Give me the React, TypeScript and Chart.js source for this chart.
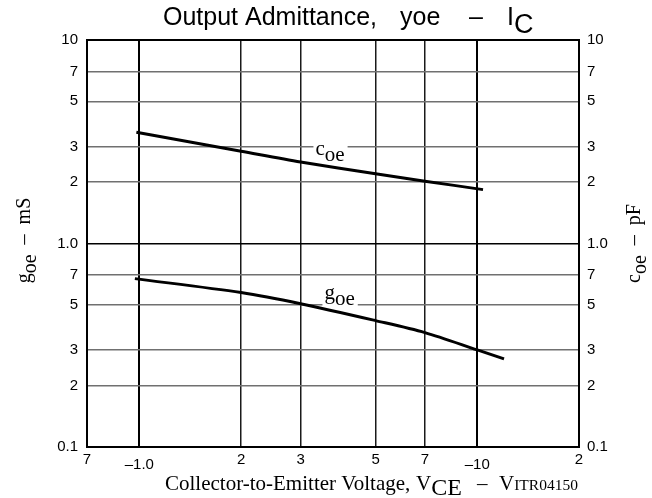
import { useEffect, useRef } from "react";
import Chart from "chart.js/auto";

// ---- data ----
const xTickValues = [0.7, 1, 2, 3, 5, 7, 10, 20];
const xTickLabels = ["7", "–1.0", "2", "3", "5", "7", "–10", "2"];
const yTickValues = [0.1, 0.2, 0.3, 0.5, 0.7, 1, 2, 3, 5, 7, 10];
const yTickLabels = ["0.1", "2", "3", "5", "7", "1.0", "2", "3", "5", "7", "10"];

const coeVce = [0.98, 2, 3, 5, 7, 10.4];
const coeValues = [3.52, 2.84, 2.515, 2.2, 2.025, 1.84];
const goeVce = [0.97, 2, 3, 5, 7, 10, 12];
const goeValues = [0.672, 0.574, 0.506, 0.418, 0.365, 0.3, 0.271];

// curve label anchors (data units)
const coeLabelAt = { x: 3.32, y: 2.71 };
const goeLabelAt = { x: 3.53, y: 0.536 };

const SANS = "'Liberation Sans', Arial, sans-serif";
const SERIF = "'Liberation Serif', 'Times New Roman', serif";

type Run = { t: string; font: string; dy: number; x?: number };

function runsWidth(ctx: CanvasRenderingContext2D, runs: Run[]) {
  let w = 0;
  for (const r of runs) {
    ctx.font = r.font;
    w += ctx.measureText(r.t).width;
  }
  return w;
}

function drawRuns(ctx: CanvasRenderingContext2D, runs: Run[], x: number, y: number) {
  let cx = x;
  for (const r of runs) {
    if (r.x !== undefined) cx = r.x;
    ctx.font = r.font;
    ctx.fillText(r.t, cx, y + r.dy);
    cx += ctx.measureText(r.t).width;
  }
  return cx;
}

const decorPlugin = {
  id: "decor",
  beforeDatasetsDraw(chart: any) {
    const ctx = chart.ctx as CanvasRenderingContext2D;
    const xs = chart.scales.x;
    const ys = chart.scales.y;
    const labels = [
      { at: coeLabelAt, main: "c" },
      { at: goeLabelAt, main: "g" },
    ];
    ctx.save();
    ctx.textAlign = "left";
    ctx.textBaseline = "alphabetic";
    for (const l of labels) {
      const px = xs.getPixelForValue(l.at.x);
      const py = ys.getPixelForValue(l.at.y);
      const runs: Run[] = [
        { t: l.main, font: `21px ${SERIF}`, dy: 0 },
        { t: "oe", font: `21px ${SERIF}`, dy: 6 },
      ];
      const w = runsWidth(ctx, runs);
      ctx.fillStyle = "#fff";
      ctx.fillRect(px - 2, py - 14, w + 5, 22);
      ctx.fillStyle = "#000";
      drawRuns(ctx, runs, px, py);
    }
    ctx.restore();
  },
  afterDraw(chart: any) {
    const ctx = chart.ctx as CanvasRenderingContext2D;
    const area = chart.chartArea;
    const xs = chart.scales.x;
    ctx.save();
    // frame
    ctx.strokeStyle = "#000";
    ctx.lineWidth = 2;
    ctx.strokeRect(area.left, area.top, area.right - area.left, area.bottom - area.top);

    ctx.fillStyle = "#000";
    ctx.textBaseline = "alphabetic";
    // x tick labels
    ctx.font = `15px ${SANS}`;
    ctx.textAlign = "center";
    xTickValues.forEach((v, i) => {
      const lbl = xTickLabels[i];
      const lower = lbl.startsWith("–");
      ctx.fillText(lbl, xs.getPixelForValue(v), area.bottom + (lower ? 22 : 17));
    });

    ctx.textAlign = "left";
    // title
    drawRuns(
      ctx,
      [
        { t: "Output Admittance,", font: `25px ${SANS}`, dy: 0, x: 163 },
        { t: "yoe", font: `25px ${SANS}`, dy: 0, x: 400 },
        { t: "–", font: `25px ${SANS}`, dy: 0, x: 469 },
        { t: "I", font: `25px ${SANS}`, dy: 0, x: 507 },
        { t: "C", font: `27px ${SANS}`, dy: 8 },
      ],
      163,
      25
    );

    // x axis title
    drawRuns(
      ctx,
      [
        { t: "Collector-to-Emitter Voltage,", font: `21px ${SERIF}`, dy: 0, x: 165 },
        { t: "V", font: `21px ${SERIF}`, dy: 0, x: 416 },
        { t: "CE", font: `24px ${SERIF}`, dy: 5 },
        { t: "–", font: `21px ${SERIF}`, dy: 0, x: 477 },
        { t: "V", font: `21px ${SERIF}`, dy: 0, x: 499 },
        { t: "ITR04150", font: `15.5px ${SERIF}`, dy: 0 },
      ],
      165,
      490
    );

    // left y title
    const cy = (area.top + area.bottom) / 2;
    const leftRuns: Run[] = [
      { t: "g", font: `20px ${SERIF}`, dy: 0 },
      { t: "oe", font: `20px ${SERIF}`, dy: 6 },
      { t: "  –  mS", font: `20px ${SERIF}`, dy: 0 },
    ];
    ctx.save();
    ctx.translate(30, cy - 3);
    ctx.rotate(-Math.PI / 2);
    drawRuns(ctx, leftRuns, -runsWidth(ctx, leftRuns) / 2, 0);
    ctx.restore();

    const rightRuns: Run[] = [
      { t: "c", font: `20px ${SERIF}`, dy: 0 },
      { t: "oe", font: `20px ${SERIF}`, dy: 6 },
      { t: "  –  pF", font: `20px ${SERIF}`, dy: 0 },
    ];
    ctx.save();
    ctx.translate(640, cy);
    ctx.rotate(-Math.PI / 2);
    drawRuns(ctx, rightRuns, -runsWidth(ctx, rightRuns) / 2, 0);
    ctx.restore();

    ctx.restore();
  },
};

export default function App() {
  const ref = useRef<HTMLCanvasElement | null>(null);

  useEffect(() => {
    if (!ref.current) return;
    const yTicks = (scale: any) => {
      scale.ticks = yTickValues.map((v) => ({ value: v }));
    };
    const yLabel = (value: any) => {
      const i = yTickValues.indexOf(Number(value));
      return i >= 0 ? yTickLabels[i] : "";
    };
    const chart = new Chart(ref.current, {
      type: "scatter",
      data: {
        datasets: [
          {
            label: "coe",
            data: coeVce.map((x, i) => ({ x, y: coeValues[i] })),
            showLine: true,
            borderColor: "#000",
            borderWidth: 3,
            pointRadius: 0,
            tension: 0.3,
            yAxisID: "y",
          },
          {
            label: "goe",
            data: goeVce.map((x, i) => ({ x, y: goeValues[i] })),
            showLine: true,
            borderColor: "#000",
            borderWidth: 3,
            pointRadius: 0,
            tension: 0.3,
            yAxisID: "y",
          },
        ],
      },
      options: {
        responsive: false,
        maintainAspectRatio: false,
        devicePixelRatio: 1,
        animation: false,
        layout: { padding: { left: 0, right: 0, top: 40, bottom: 0 } },
        plugins: { legend: { display: false }, tooltip: { enabled: false }, title: { display: false } },
        scales: {
          x: {
            type: "logarithmic",
            position: "bottom",
            min: 0.7,
            max: 20,
            afterBuildTicks: (scale: any) => {
              scale.ticks = xTickValues.map((v) => ({ value: v }));
            },
            afterFit: (scale: any) => {
              scale.height = 51;
            },
            ticks: { display: false, autoSkip: false },
            border: { display: true, color: "#000", width: 2 },
            grid: {
              drawTicks: false,
              color: (c: any) => {
                const v = c.tick?.value;
                if (v === 0.7 || v === 20) return "rgba(0,0,0,0)";
                if (v === 1 || v === 10) return "#000";
                return "#1a1a1a";
              },
              lineWidth: (c: any) => {
                const v = c.tick?.value;
                return v === 1 || v === 10 ? 2 : 1.5;
              },
            },
          },
          y: {
            type: "logarithmic",
            position: "left",
            min: 0.1,
            max: 10,
            afterBuildTicks: yTicks,
            afterFit: (scale: any) => {
              scale.width = 87;
            },
            ticks: {
              autoSkip: false,
              padding: 9,
              color: "#000",
              font: { family: SANS, size: 15 },
              callback: yLabel,
            },
            border: { display: true, color: "#000", width: 2 },
            grid: {
              drawTicks: false,
              color: (c: any) => (c.tick?.value === 1 ? "#000" : "#707070"),
              lineWidth: 1.5,
            },
          },
          y2: {
            type: "logarithmic",
            position: "right",
            min: 0.1,
            max: 10,
            afterBuildTicks: yTicks,
            afterFit: (scale: any) => {
              scale.width = 73;
            },
            ticks: {
              autoSkip: false,
              padding: 8,
              color: "#000",
              font: { family: SANS, size: 15 },
              callback: yLabel,
            },
            border: { display: true, color: "#000", width: 2 },
            grid: { display: false, drawTicks: false },
          },
        },
      },
      plugins: [decorPlugin],
    } as any);
    return () => chart.destroy();
  }, []);

  return (
    <div style={{ position: "fixed", left: 0, top: 0, width: 652, height: 498, background: "#fff" }}>
      <canvas ref={ref} width={652} height={498} style={{ display: "block", width: 652, height: 498 }} />
    </div>
  );
}
